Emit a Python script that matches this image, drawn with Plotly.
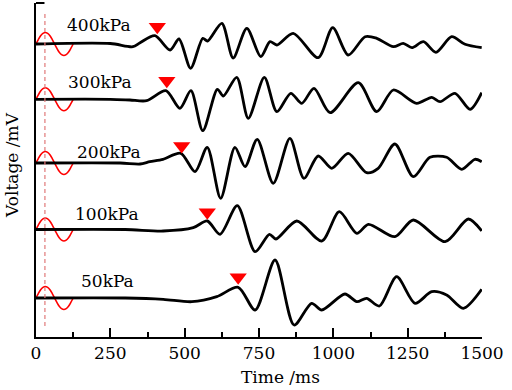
import plotly.graph_objects as go

# ---- data (time in ms, voltage in arbitrary units relative to each trace baseline) ----
labels = ["400kPa", "300kPa", "200kPa", "100kPa", "50kPa"]
offsets = [293, 237.7, 174, 107.5, 39]

t_400 = [0, 250, 326, 350, 400, 451, 481, 520, 561, 577, 625, 663, 709, 756, 787, 810, 865, 949, 998, 1050, 1107, 1146, 1202, 1235, 1264, 1303, 1345, 1398, 1443, 1499]
v_400 = [0, 0.5, -2.7, 1.3, 8.3, -6, 5, -24.3, 5.7, 3, 20.7, -14, 15.7, -12.7, 2.3, -1, 10.7, -13.7, 16.3, -11, 7.3, 5.7, -2.7, 0.7, -3.7, 2.3, -8.3, 7.3, -0.3, -3.7]

t_300 = [0, 250, 316, 372, 437, 484, 521, 561, 610, 630, 675, 714, 768, 810, 857, 894, 935, 989, 1084, 1146, 1202, 1280, 1331, 1359, 1409, 1460, 1499]
v_300 = [0, 0, -0.7, -1.4, 8.6, -9, 8.6, -31.4, 10, 3.3, 22, -19, 22, -12.4, 6, -4, 11, -13.4, 16.6, -12.4, 9.3, -4, 2, -2.4, 6, -10, 6.6]

t_200 = [0, 283, 350, 383, 427, 487, 535, 576, 621, 669, 703, 744, 798, 854, 901, 949, 995, 1050, 1112, 1151, 1207, 1269, 1325, 1381, 1432, 1476, 1499]
v_200 = [0, 0, -1, 1.3, 3.7, 9.7, -8.7, 15.7, -35.3, 15.7, -3.7, 23.7, -20.3, 24.7, -15.3, 7, -5.3, 9.7, -9.7, -5.3, 19, -13.7, 5.7, 5.7, -6.3, 3.7, 1.3]

t_100 = [0, 300, 428, 529, 576, 619, 677, 737, 785, 807, 877, 961, 1020, 1079, 1118, 1207, 1269, 1376, 1454, 1499]
v_100 = [0, 0, -1.5, 1.8, 8.5, -4.8, 23.8, -22.2, -4.8, -9.5, 8.5, -11.5, 17.8, -3.8, 5.2, -7.2, 9.5, -12.2, 10.5, -1.5]

t_50 = [0, 300, 428, 524, 608, 680, 737, 804, 868, 927, 961, 1039, 1079, 1112, 1155, 1213, 1275, 1331, 1381, 1437, 1499]
v_50 = [0, 0, -1.3, -3.7, 1.3, 10.7, -12, 38, -27, -5.3, -12, 4, -3.7, -0.3, -8, 21.3, -5.3, 6.3, 3, -10.3, 8.7]

times = [t_400, t_300, t_200, t_100, t_50]
volts = [v_400, v_300, v_200, v_100, v_50]

# excitation burst (one cycle, 0-125 ms)
burst_t = [0, 7.8, 15.6, 23.4, 31.3, 39.1, 46.9, 54.7, 62.5, 70.3, 78.1, 85.9, 93.8, 101.6, 109.4, 117.2, 125]
burst_v = [0, 4.4, 8.2, 10.6, 11.5, 10.6, 8.2, 4.4, 0, -4.4, -8.2, -10.6, -11.5, -10.6, -8.2, -4.4, 0]

# arrival markers
arrival_t = [408, 440, 490, 576, 680]
arrival_v = [17.3, 18.6, 17, 17.2, 20.7]

# label positions
label_t = [212, 215, 245, 240, 240]
label_v = [19, 17.3, 11, 15.5, 17]

trigger_t = 30

fig = go.Figure()
serif = "DejaVu Serif"

for i in range(5):
    fig.add_trace(go.Scatter(
        x=burst_t, y=[v + offsets[i] for v in burst_v], mode="lines",
        line=dict(color="#ff0000", width=1.6, shape="spline"), hoverinfo="skip"))
    fig.add_trace(go.Scatter(
        x=times[i], y=[v + offsets[i] for v in volts[i]], mode="lines",
        line=dict(color="black", width=2.8, shape="spline", smoothing=0.8), hoverinfo="skip"))

fig.add_trace(go.Scatter(
    x=arrival_t, y=[arrival_v[i] + offsets[i] for i in range(5)], mode="markers",
    marker=dict(symbol="triangle-down", size=15, color="#ff0000", line=dict(width=0)),
    hoverinfo="skip"))

# trigger line
fig.add_trace(go.Scatter(
    x=[trigger_t, trigger_t], y=[11, 325], mode="lines",
    line=dict(color="#e07a7a", width=1.2, dash="4px,3px"), hoverinfo="skip"))

for i in range(5):
    fig.add_annotation(x=label_t[i], y=label_v[i] + offsets[i], text=labels[i], showarrow=False,
                       font=dict(family=serif, size=17, color="black"), xanchor="center", yanchor="middle")

fig.add_annotation(x=0.549, y=-0.12, xref="paper", yref="paper", text="Time /ms", showarrow=False,
                   font=dict(family=serif, size=17, color="black"), xanchor="center", yanchor="middle")
fig.add_annotation(x=-0.054, y=0.515, xref="paper", yref="paper", text="Voltage /mV", showarrow=False,
                   textangle=-90, font=dict(family=serif, size=17, color="black"), xanchor="center", yanchor="middle")

# top cap of the y axis
fig.add_shape(type="line", xref="paper", yref="paper", x0=0, x1=0.019, y0=1, y1=1,
              line=dict(color="black", width=2))

fig.update_layout(
    width=512, height=390,
    margin=dict(l=36, r=30, t=3, b=53),
    paper_bgcolor="white", plot_bgcolor="white",
    showlegend=False,
    font=dict(family=serif),
    xaxis=dict(range=[0, 1500], tickvals=[0, 250, 500, 750, 1000, 1250, 1500],
               ticks="inside", ticklen=9, tickwidth=1.5, tickcolor="black",
               minor=dict(tickvals=[125, 375, 625, 875, 1125, 1375], ticks="inside", ticklen=5,
                          tickwidth=1.5, tickcolor="black"),
               showline=True, linewidth=2, linecolor="black", showgrid=False, zeroline=False,
               tickfont=dict(family=serif, size=17, color="black")),
    yaxis=dict(range=[0, 334], showline=True, linewidth=2, linecolor="black", showgrid=False,
               zeroline=False, showticklabels=False, ticks=""),
)

fig.write_html("out.html", config={"displayModeBar": False},
               post_script="document.body.style.margin='0';document.body.style.padding='0';")
